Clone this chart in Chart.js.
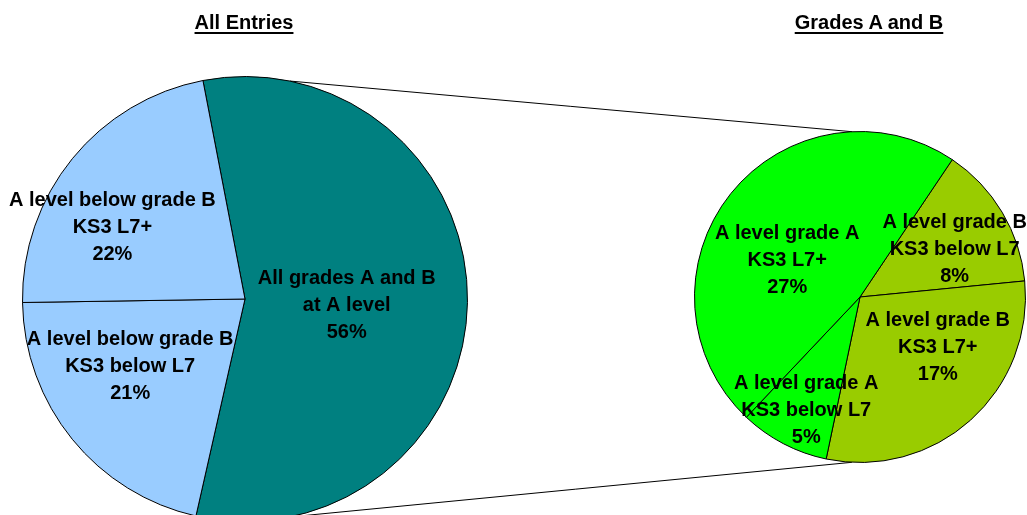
<!DOCTYPE html>
<html>
<head>
<meta charset="utf-8">
<script src="https://cdn.jsdelivr.net/npm/chart.js@4"></script>
<style>
  html, body { margin: 0; padding: 0; background: #fff; }
  body { width: 1027px; height: 515px; position: relative; overflow: hidden; font-family: "Liberation Sans", Arial, sans-serif; }
  .title { position: absolute; top: 11px; font-weight: bold; font-size: 20px; text-decoration: underline; text-decoration-thickness: 2px; text-underline-offset: 3px; transform: translateX(-50%); white-space: nowrap; color: #000; }
  canvas { position: absolute; }
</style>
</head>
<body>
<canvas id="lines" width="1027" height="515" style="left:0;top:0;"></canvas>
<div class="title" style="left:244px;">All Entries</div>
<div class="title" style="left:869px;">Grades A and B</div>
<div style="position:absolute;left:2px;top:56px;width:486px;height:486px;"><canvas id="allChart"></canvas></div>
<div style="position:absolute;left:674px;top:111px;width:372px;height:372px;"><canvas id="abChart"></canvas></div>
<script>
// left pie - all entries
var allLabels = [
    ['All grades A and B', 'at A level'],
    ['A level below grade B', 'KS3 below L7'],
    ['A level below grade B', 'KS3 L7+']
];
var allValues = [56, 21, 22];
var allColors = ['#008080', '#99CCFF', '#99CCFF'];

// right pie - grades A and B split
var abLabels = [
    ['A level grade B', 'KS3 below L7'],
    ['A level grade B', 'KS3 L7+'],
    ['A level grade A', 'KS3 below L7'],
    ['A level grade A', 'KS3 L7+']
];
var abValues = [8, 17, 5, 27];
var abColors = ['#99CC00', '#99CC00', '#00FF00', '#00FF00'];

// label anchors, as fraction of radius from the centre
var allAnchors = [[0.457, 0.031], [-0.516, 0.305], [-0.596, -0.323]];
var abAnchors = [[0.572, -0.289], [0.47, 0.307], [-0.325, 0.687], [-0.44, -0.223]];

const sliceLabels = {
    id: 'sliceLabels',
    afterDatasetsDraw(chart, args, opts) {
        const ctx = chart.ctx;
        const meta = chart.getDatasetMeta(0);
        const ds = chart.data.datasets[0];
        ctx.save();
        ctx.font = 'bold 20px "Liberation Sans", Arial, sans-serif';
        ctx.fillStyle = '#000';
        ctx.textAlign = 'center';
        ctx.textBaseline = 'middle';
        meta.data.forEach(function(arc, i) {
            let lines = chart.data.labels[i].concat([ds.data[i] + '%']);
            let cx = arc.x + opts.anchors[i][0] * arc.outerRadius;
            let cy = arc.y + opts.anchors[i][1] * arc.outerRadius;
            let lh = 27;
            let top = cy - (lines.length - 1) * lh / 2;
            lines.forEach(function(t, j) {
                ctx.fillText(t, cx, top + j * lh);
            });
        });
        ctx.restore();
    }
};

function pieConfig(labels, values, colors, rotation, anchors) {
    return {
        type: 'pie',
        data: {
            labels: labels,
            datasets: [{
                data: values,
                backgroundColor: colors,
                borderColor: '#000',
                borderWidth: 1
            }]
        },
        options: {
            responsive: true,
            maintainAspectRatio: false,
            animation: false,
            rotation: rotation,
            layout: { padding: 20 },
            plugins: {
                legend: { display: false },
                tooltip: { enabled: false },
                sliceLabels: { anchors: anchors }
            }
        },
        plugins: [sliceLabels]
    };
}

const allChart = new Chart(document.getElementById('allChart'), pieConfig(allLabels, allValues, allColors, -10.9, allAnchors));
const abChart = new Chart(document.getElementById('abChart'), pieConfig(abLabels, abValues, abColors, 33.9, abAnchors));

// connector lines between the two pies
function drawConnectors() {
    let a = allChart.getDatasetMeta(0).data[0];
    let b = abChart.getDatasetMeta(0).data[0];
    let ax = a.x + 2, ay = a.y + 56, ar = a.outerRadius;
    let bx = b.x + 674, by = b.y + 111, br = b.outerRadius;
    let ta = 11.6 * Math.PI / 180, tb = -2.8 * Math.PI / 180;
    const ctx = document.getElementById('lines').getContext('2d');
    ctx.strokeStyle = '#000';
    ctx.lineWidth = 1;
    ctx.beginPath();
    ctx.moveTo(ax + ar * Math.sin(ta), ay - ar * Math.cos(ta));
    ctx.lineTo(bx + br * Math.sin(tb), by - br * Math.cos(tb));
    ctx.moveTo(ax + ar * Math.sin(ta), ay + ar * Math.cos(ta));
    ctx.lineTo(bx + br * Math.sin(tb), by + br * Math.cos(tb));
    ctx.stroke();
}
drawConnectors();
</script>
</body>
</html>
